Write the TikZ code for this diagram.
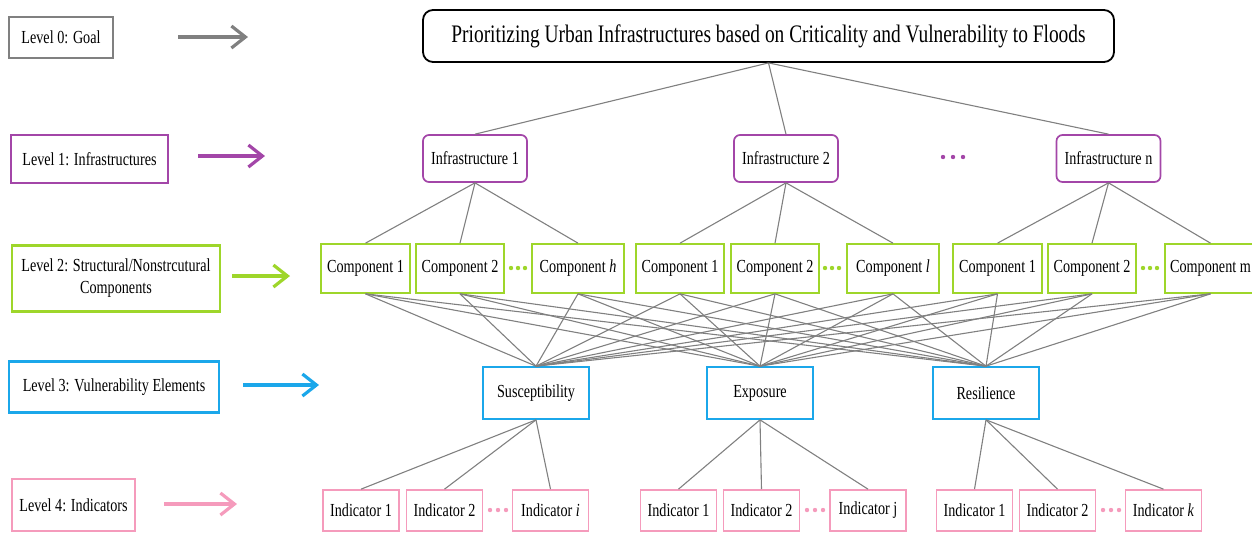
\documentclass[tikz,border=0pt]{standalone}
\usepackage{fontspec}
\setmainfont{Liberation Serif}[FakeStretch=0.77]
\usetikzlibrary{arrows.meta}

\definecolor{cgoal}{RGB}{128,128,128}
\definecolor{cinfra}{RGB}{163,70,168}
\definecolor{ccomp}{RGB}{158,214,42}
\definecolor{cvuln}{RGB}{27,167,234}
\definecolor{cind}{RGB}{245,155,188}

\tikzset{
  niveau/.style={draw=#1, line width=1.2pt, inner sep=2pt, align=center, font=\fontsize{9.2}{11}\selectfont},
  fleche/.style={draw=#1, line width=1.6pt, -{Straight Barb[length=7pt,width=11pt,line width=1.6pt]}},
  boite/.style={draw=#1, line width=0.85pt, inner sep=1pt, font=\fontsize{9.2}{11}\selectfont},
  lien/.style={draw=gray, line width=0.55pt},
}

\begin{document}
\begin{tikzpicture}[x=0.5pt, y=-0.5pt]
    \clip (0,0) rectangle (1252,532);

    % Niveaux (gauche)
    \node[niveau=cgoal, minimum width=52pt, minimum height=20.5pt] (niv0) at (61,37.5) {Level 0: Goal};
    \node[niveau=cinfra, minimum width=78.5pt, minimum height=24pt] (niv1) at (89.5,159) {Level 1: Infrastructures};
    \node[niveau=ccomp, minimum width=104pt, minimum height=33pt] (niv2) at (116,278.5) {Level 2: Structural/Nonstrcutural\\Components};
    \node[niveau=cvuln, minimum width=105pt, minimum height=25.5pt] (niv3) at (114,387) {Level 3: Vulnerability Elements};
    \node[niveau=cind, minimum width=61.5pt, minimum height=26pt] (niv4) at (73.5,505) {Level 4: Indicators};

    % Flèches
    \foreach \n/\xa/\xb/\y/\c in {0/178/248/37/cgoal, 1/198/265/156/cinfra, 2/232/290/276/ccomp, 3/243/319/385/cvuln, 4/164/237/504/cind}{
        \coordinate (f\n a) at (\xa,\y);
        \coordinate (f\n b) at (\xb,\y);
        \draw[fleche=\c] (f\n a) -- (f\n b);
    }

    % Objectif
    \node[draw, rounded corners=5pt, line width=0.9pt, minimum width=345.5pt, minimum height=26pt, font=\fontsize{12.6}{14}\selectfont] (but) at (768.5,36)
        {Prioritizing Urban Infrastructures based on Criticality and Vulnerability to Floods};

    % Infrastructures
    \foreach \n/\x/\t in {1/475/1, 2/786/2, 3/1108.5/n}
        \node[boite=cinfra, rounded corners=3pt, minimum width=52pt, minimum height=23.5pt] (inf\n) at (\x,158.5) {Infrastructure \t};

    % Composants
    \foreach \n/\x/\w/\t in {11/365.5/44.5/1, 12/460/44/2, 13/578/46/\textit{h}, 21/680/44/1, 22/775/44/2, 23/893/46/\textit{l}, 31/997.5/44.5/1, 32/1092/44/2, 33/1210.5/45.5/m}
        \node[boite=ccomp, minimum width=\w pt, minimum height=24.5pt] (comp\n) at (\x,268.5) {Component \t};

    % Vulnérabilité
    \foreach \n/\x/\t in {1/536/Susceptibility, 2/760/Exposure, 3/986/Resilience}
        \node[boite=cvuln, minimum width=53pt, minimum height=26pt] (vul\n) at (\x,393) {\t};

    % Indicateurs
    \foreach \n/\x/\t in {11/361/1, 12/444.5/2, 13/550.5/\textit{i}, 21/678.5/1, 22/761.5/2, 23/868/j, 31/974.5/1, 32/1057.5/2, 33/1163.5/\textit{k}}
        \node[boite=cind, minimum width=38pt, minimum height=20.5pt] (ind\n) at (\x,510.5) {Indicator \t};

    % Points
    \foreach \x/\y/\c/\e in {953/157/cinfra/10, 518/268/ccomp/7, 832/268/ccomp/7, 1150/268/ccomp/7, 498/510/cind/8, 815/510/cind/8, 1111/510/cind/8}
        \foreach \k in {-1,0,1}
            \fill[\c] ({\x+\k*\e},\y) circle (1.1pt);

    % Liens
    \foreach \i in {1,2,3}{
        \draw[lien] (but.south) -- (inf\i.north);
        \foreach \j in {1,2,3}
            \draw[lien] (inf\i.south) -- (comp\i\j.north);
    }
    \foreach \c in {11,12,13,21,22,23,31,32,33}
        \foreach \v in {1,2,3}
            \draw[lien] (comp\c.south) -- (vul\v.north);
    \foreach \v in {1,2,3}
        \foreach \j in {1,2,3}
            \draw[lien] (vul\v.south) -- (ind\v\j.north);
\end{tikzpicture}
\end{document}
